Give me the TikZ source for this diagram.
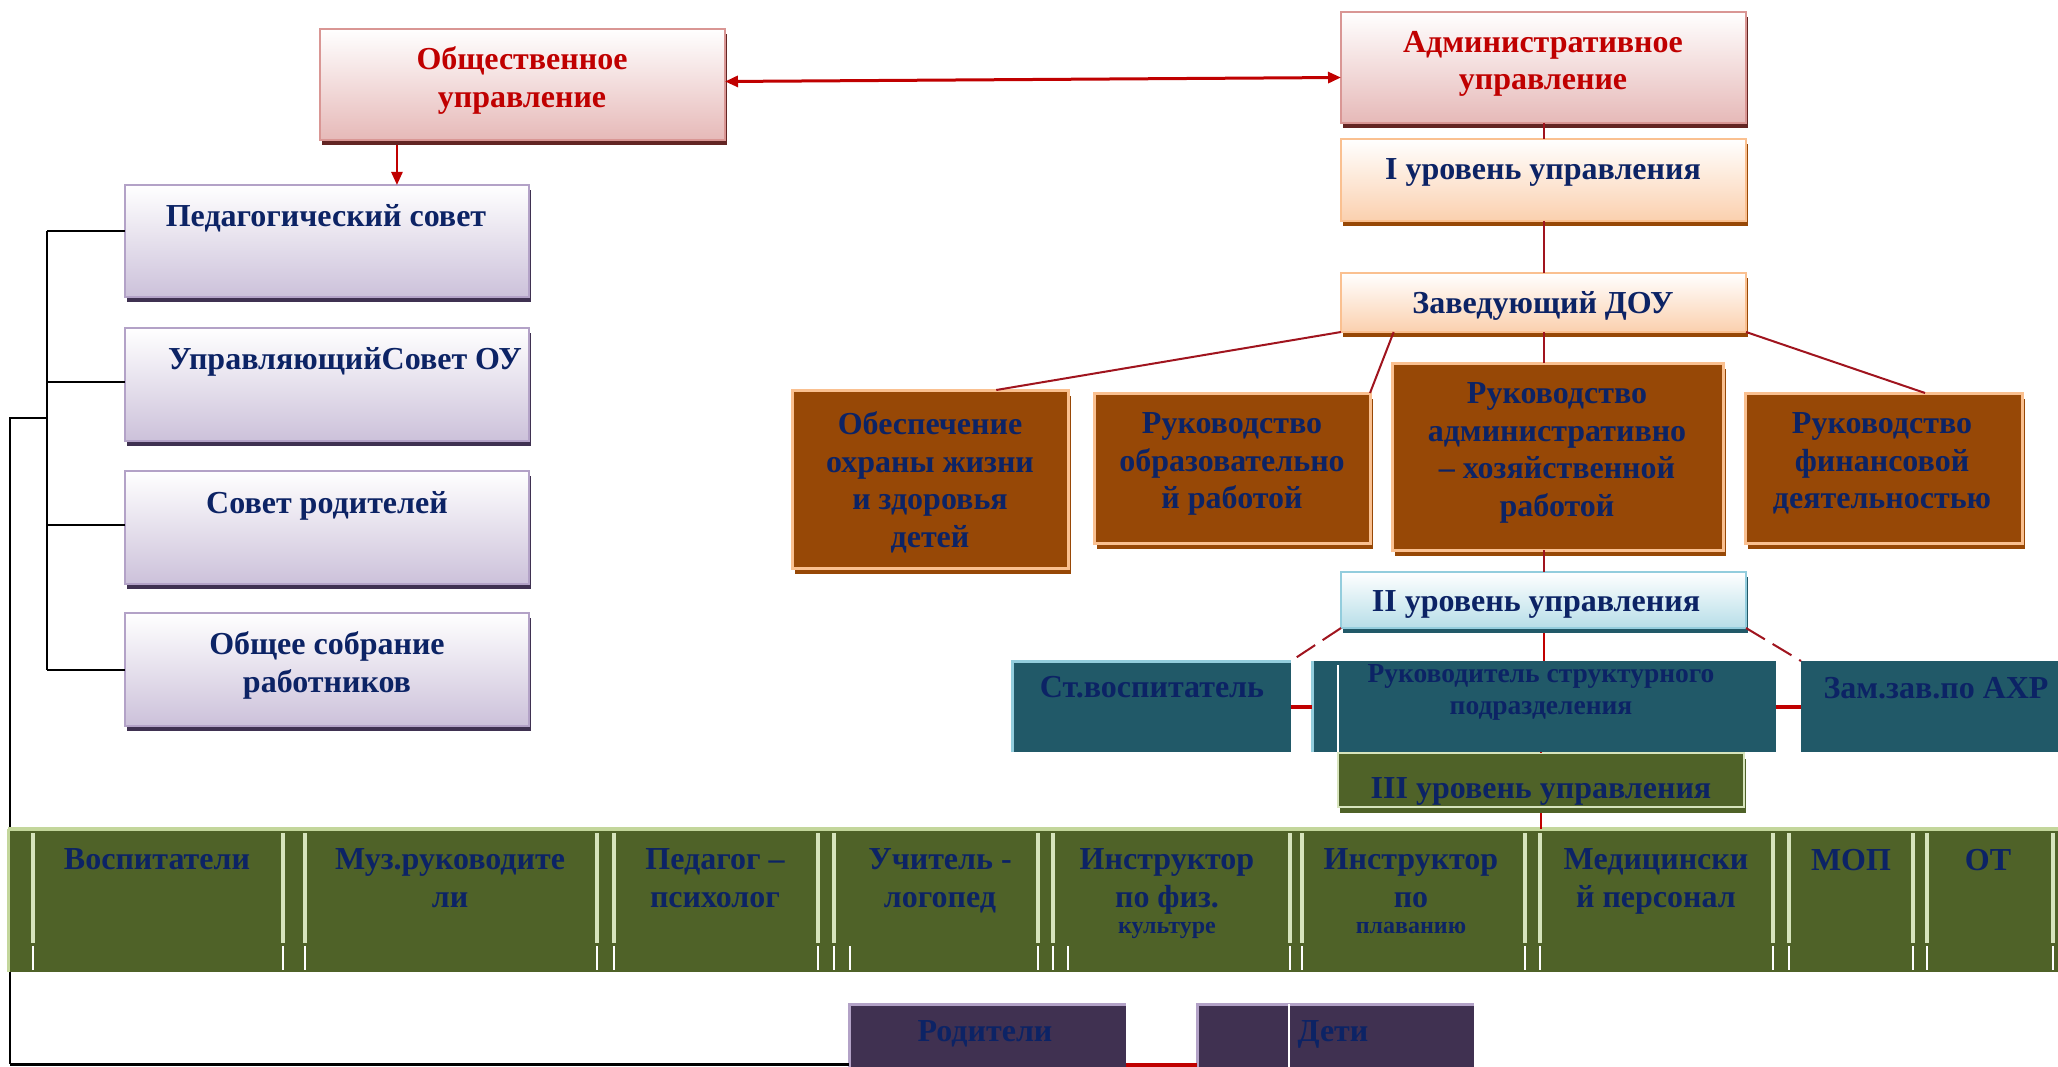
\documentclass[tikz,border=0pt]{standalone}
\usepackage{fontspec}
\setmainfont{Liberation Serif}
\usetikzlibrary{arrows.meta,shadows,calc}
\definecolor{navy}{HTML}{0C2365}
\definecolor{tred}{HTML}{C00000}
\definecolor{lred}{HTML}{A0141E}
\definecolor{pinkB}{HTML}{E6B9B8}
\definecolor{pinkL}{HTML}{D99694}
\definecolor{pinkS}{HTML}{632523}
\definecolor{lavB}{HTML}{CCC1DA}
\definecolor{lavL}{HTML}{B3A2C7}
\definecolor{lavS}{HTML}{3F3151}
\definecolor{orB}{HTML}{FBD0AE}
\definecolor{orL}{HTML}{FAC090}
\definecolor{brn}{HTML}{974806}
\definecolor{bluB}{HTML}{B7DEE8}
\definecolor{bluL}{HTML}{93CDDD}
\definecolor{bluS}{HTML}{215968}
\definecolor{tealF}{HTML}{215968}
\definecolor{grnF}{HTML}{4F6228}
\definecolor{grnL}{HTML}{C3D69B}
\definecolor{grnS}{HTML}{D7E4BD}
\definecolor{purF}{HTML}{403151}
\tikzset{
  wh/.style 2 args={minimum width=#1pt, minimum height=#2pt},
  bx/.style={rectangle, inner sep=0pt, outer sep=0pt, anchor=north west},
  pinkbox/.style={bx, top color=white, bottom color=pinkB, draw=pinkL, line width=2.5pt,
    general shadow={fill=pinkS, shadow xshift=2pt, shadow yshift=-5pt}},
  lavbox/.style={bx, top color=white, bottom color=lavB, draw=lavL, line width=2.5pt,
    general shadow={fill=lavS, shadow xshift=2pt, shadow yshift=-5pt}},
  orbox/.style={bx, top color=white, bottom color=orB, draw=orL, line width=2.5pt,
    general shadow={fill=brn, shadow xshift=2pt, shadow yshift=-5pt}},
  brnbox/.style={bx, fill=brn, draw=orL, line width=3pt,
    general shadow={fill=brn, shadow xshift=3pt, shadow yshift=-6pt}},
  blubox/.style={bx, top color=white, bottom color=bluB, draw=bluL, line width=2.5pt,
    general shadow={fill=bluS, shadow xshift=2pt, shadow yshift=-5pt}},
  tealbox/.style={bx, fill=tealF},
  grnbox/.style={bx, fill=grnF, draw=grnS, line width=1.5pt,
    general shadow={fill=grnF, shadow xshift=2pt, shadow yshift=-6pt}},
  cellbox/.style={bx, fill=grnF, minimum height=110pt},
  purbox/.style={bx, fill=purF},
  txt/.style={inner sep=0pt, outer sep=0pt, anchor=north, align=center,
    font=\bfseries\fontsize{32}{37.5}\selectfont, text=navy},
  redtxt/.style={txt, text=tred},
  smtxt/.style={txt, font=\bfseries\fontsize{24}{28}\selectfont},
  midtxt/.style={txt, font=\bfseries\fontsize{27.5}{32}\selectfont},
  redline/.style={draw=lred, line width=2pt},
  redthick/.style={draw=tred, line width=4pt},
  redarrow/.style={draw=tred, line width=2.5pt, -{Triangle[length=13pt,width=11pt]}},
  biarrow/.style={draw=tred, line width=3pt, {Triangle[length=13pt,width=11pt]}-{Triangle[length=13pt,width=11pt]}},
  blk/.style={draw=black, line width=2pt},
  sepline/.style={draw=grnS, line width=3.5pt},
  wline/.style={draw=white, line width=1.2pt},
}
\begin{document}
\begin{tikzpicture}[x=1pt,y=-1pt]
\useasboundingbox[fill=white] (0,0) rectangle (2058,1067);

% ---- boxes ----
\node[pinkbox, wh={405}{111}] (obshu) at (320,29) {};
\node[pinkbox, wh={405}{111}] (adm) at (1341,12) {};
\node[orbox, wh={405}{82}] (iur) at (1341,139) {};
\node[orbox, wh={405}{59}] (zav) at (1341,273) {};

\node[lavbox, wh={404}{112}] (ped) at (125,185) {};
\node[lavbox, wh={404}{113}] (upr) at (125,328) {};
\node[lavbox, wh={404}{113}] (rod) at (125,471) {};
\node[lavbox, wh={404}{113}] (obsh) at (125,613) {};

\node[brnbox, wh={276}{178}] (obesp) at (792,390) {};
\node[brnbox, wh={276}{150}] (obraz) at (1094,393) {};
\node[brnbox, wh={331}{187}] (admhoz) at (1392,363) {};
\node[brnbox, wh={277}{150}] (fin) at (1745,393) {};

\node[blubox, wh={405}{56}] (ii) at (1341,572) {};

\node[tealbox, wh={279}{91}] (stv) at (1012,661) {};
\node[tealbox, wh={464}{91}] (ruk) at (1312,661) {};
\node[tealbox, wh={270}{91}] (zam) at (1801,661) {};
\draw[draw=bluL, line width=3pt] (stv.south west) -- (stv.north west) -- (stv.north east);
\draw[draw=bluL, line width=3pt] (ruk.south west) -- (ruk.north west);
\draw[wline] ($(ruk.north west)+(26,4)$) -- ($(ruk.south west)+(26,0)$);

\node[grnbox, wh={406}{54}] (iii) at (1338,753) {};

% ---- black tree (behind band) ----
\draw[blk] ([yshift=10pt]ped.west) -- ++(-78,0) coordinate (sp1);
\draw[blk] ([yshift=2.5pt]upr.west) -- ([yshift=2.5pt]upr.west -| sp1);
\draw[blk] ([yshift=2.5pt]rod.west) -- ([yshift=2.5pt]rod.west -| sp1);
\draw[blk] (obsh.west) -- (obsh.west -| sp1) coordinate (sp2);
\draw[blk] (sp1) -- coordinate[pos=0.427] (sp3) (sp2);
\draw[blk] (sp3) -- ++(-37,0) coordinate (sp4) -- ($(sp4)+(0,646)$) coordinate (sp5);

% ---- green band ----
\node[bx, fill=grnF, wh={2060}{143}] (band) at (8,829) {};
\draw[draw=grnL, line width=4pt] (band.north west) -- (band.north east);
\draw[draw=grnL, line width=3pt] (band.north west) -- (band.south west);

\node[cellbox, minimum width=250pt] (c1) at (33,833) {};
\node[cellbox, minimum width=292pt] (c2) at (305,833) {};
\node[cellbox, minimum width=204pt] (c3) at (614,833) {};
\node[cellbox, minimum width=204pt] (c4) at (834,833) {};
\node[cellbox, minimum width=237pt] (c5) at (1053,833) {};
\node[cellbox, minimum width=223pt] (c6) at (1302,833) {};
\node[cellbox, minimum width=233pt] (c7) at (1540,833) {};
\node[cellbox, minimum width=124pt] (c8) at (1789,833) {};
\node[cellbox, minimum width=126pt] (c9) at (1927,833) {};
\foreach \c in {c1,c2,c3,c4,c5,c6,c7,c8,c9}{
  \draw[sepline] (\c.north west) -- (\c.south west);
  \draw[sepline] (\c.north east) -- (\c.south east);
  \draw[wline] ([yshift=-3pt]\c.south west) -- ++(0,24);
  \draw[wline] ([yshift=-3pt]\c.south east) -- ++(0,24);
}
\draw[wline] ($(c4.south west)+(16,3)$) -- ++(0,24);
\draw[wline] ($(c5.south west)+(15,3)$) -- ++(0,24);

% ---- purple boxes ----
\node[purbox, wh={277}{63}] (rodit) at (849,1004) {};
\node[purbox, wh={277}{63}] (deti) at (1197,1004) {};
\draw[draw=lavL, line width=3pt] (rodit.south west) -- (rodit.north west) -- (rodit.north east);
\draw[draw=lavL, line width=3pt] (deti.south west) -- (deti.north west) -- (deti.north east);
\draw[wline] ($(deti.north west)+(92,0)$) -- ($(deti.south west)+(92,0)$);

% ---- connectors ----
\draw[redarrow] ($(obshu.south west)!0.19!(obshu.south east)+(0,5)$) coordinate (oa) -- (oa |- ped.north);
\draw[biarrow] ([yshift=3pt]obshu.east) -- ([yshift=-10pt]adm.west);
\draw[redline] (adm.south) -- (iur.north);
\draw[redline] (iur.south) -- (zav.north);
\draw[redline] (zav.south west) -- ($(obesp.north west)!0.74!(obesp.north east)$);
\draw[redline] ($(zav.south west)!0.13!(zav.south east)$) -- (obraz.north east);
\draw[redline] (zav.south) -- (zav.south |- admhoz.north);
\draw[redline] (zav.south east) -- ($(fin.north west)!0.65!(fin.north east)$);
\draw[redline] (admhoz.south -| ii.north) -- (ii.north);
\draw[redline, dash pattern=on 22pt off 9pt] (ii.south west) -- (stv.north east);
\draw[redline, dash pattern=on 22pt off 9pt] (ii.south east) -- (zam.north west);
\draw[redline, draw=tred] ([yshift=-5pt]ii.south) -- (ii.south |- ruk.north);
\draw[redthick] (stv.east) -- (ruk.west);
\draw[redthick] (ruk.east) -- (zam.west);
\draw[redline, draw=tred] (ruk.south -| iii.north) -- (iii.north);
\draw[redline, draw=tred] ([yshift=-6pt]iii.south) -- (iii.south |- band.north);
\draw[blk, line width=3.5pt] (sp5) -- (sp5 -| rodit.west);
\draw[redthick] ([yshift=2pt]rodit.south east) -- ([yshift=2pt]deti.south west);

% ---- texts ----
\node[redtxt] (obshu-t) at (522,47) {Общественное\\управление};
\node[redtxt] (adm-t) at (1543,31) {Административное\\управление};
\node[txt] (iur-t) at (1543,159) {I уровень управления};
\node[txt] (zav-t) at (1543,291) {Заведующий ДОУ};
\node[txt] (ped-t) at (326,204) {Педагогический совет};
\node[txt] (upr-t) at (345,347) {УправляющийСовет ОУ};
\node[txt] (rod-t) at (327,491) {Совет родителей};
\node[txt] (obsh-t) at (327,632) {Общее собрание\\работников};
\node[txt] (obesp-t) at (930,412) {Обеспечение\\охраны жизни\\и здоровья\\детей};
\node[txt] (obraz-t) at (1232,413) {Руководство\\образовательно\\й работой};
\node[txt] (admhoz-t) at (1557,383) {Руководство\\административно\\– хозяйственной\\работой};
\node[txt] (fin-t) at (1882,413) {Руководство\\финансовой\\деятельностью};
\node[txt] (ii-t) at (1536,591) {II уровень управления};
\node[txt] (stv-t) at (1152,676) {Ст.воспитатель};
\node[midtxt] (ruk-t) at (1541,664) {Руководитель структурного\\подразделения};
\node[txt] (zam-t) at (1936,677) {Зам.зав.по АХР};
\node[txt] (iii-t) at (1541,778) {III уровень управления};
\node[txt] (c1-t) at (157,849) {Воспитатели};
\node[txt] (c2-t) at (450,849) {Муз.руководите\\ли};
\node[txt] (c3-t) at (715,849) {Педагог –\\психолог};
\node[txt] (c4-t) at (940,849) {Учитель -\\логопед};
\node[txt] (c5-t) at (1167,849) {Инструктор\\по физ.};
\node[smtxt] (c5-s) at (1167,922) {культуре};
\node[txt] (c6-t) at (1411,849) {Инструктор\\по};
\node[smtxt] (c6-s) at (1411,922) {плаванию};
\node[txt] (c7-t) at (1656,849) {Медицински\\й персонал};
\node[txt] (c8-t) at (1851,849) {МОП};
\node[txt] (c9-t) at (1988,849) {ОТ};
\node[txt] (rodit-t) at (985,1021) {Родители};
\node[txt] (deti-t) at (1333,1021) {Дети};
\end{tikzpicture}
\end{document}
